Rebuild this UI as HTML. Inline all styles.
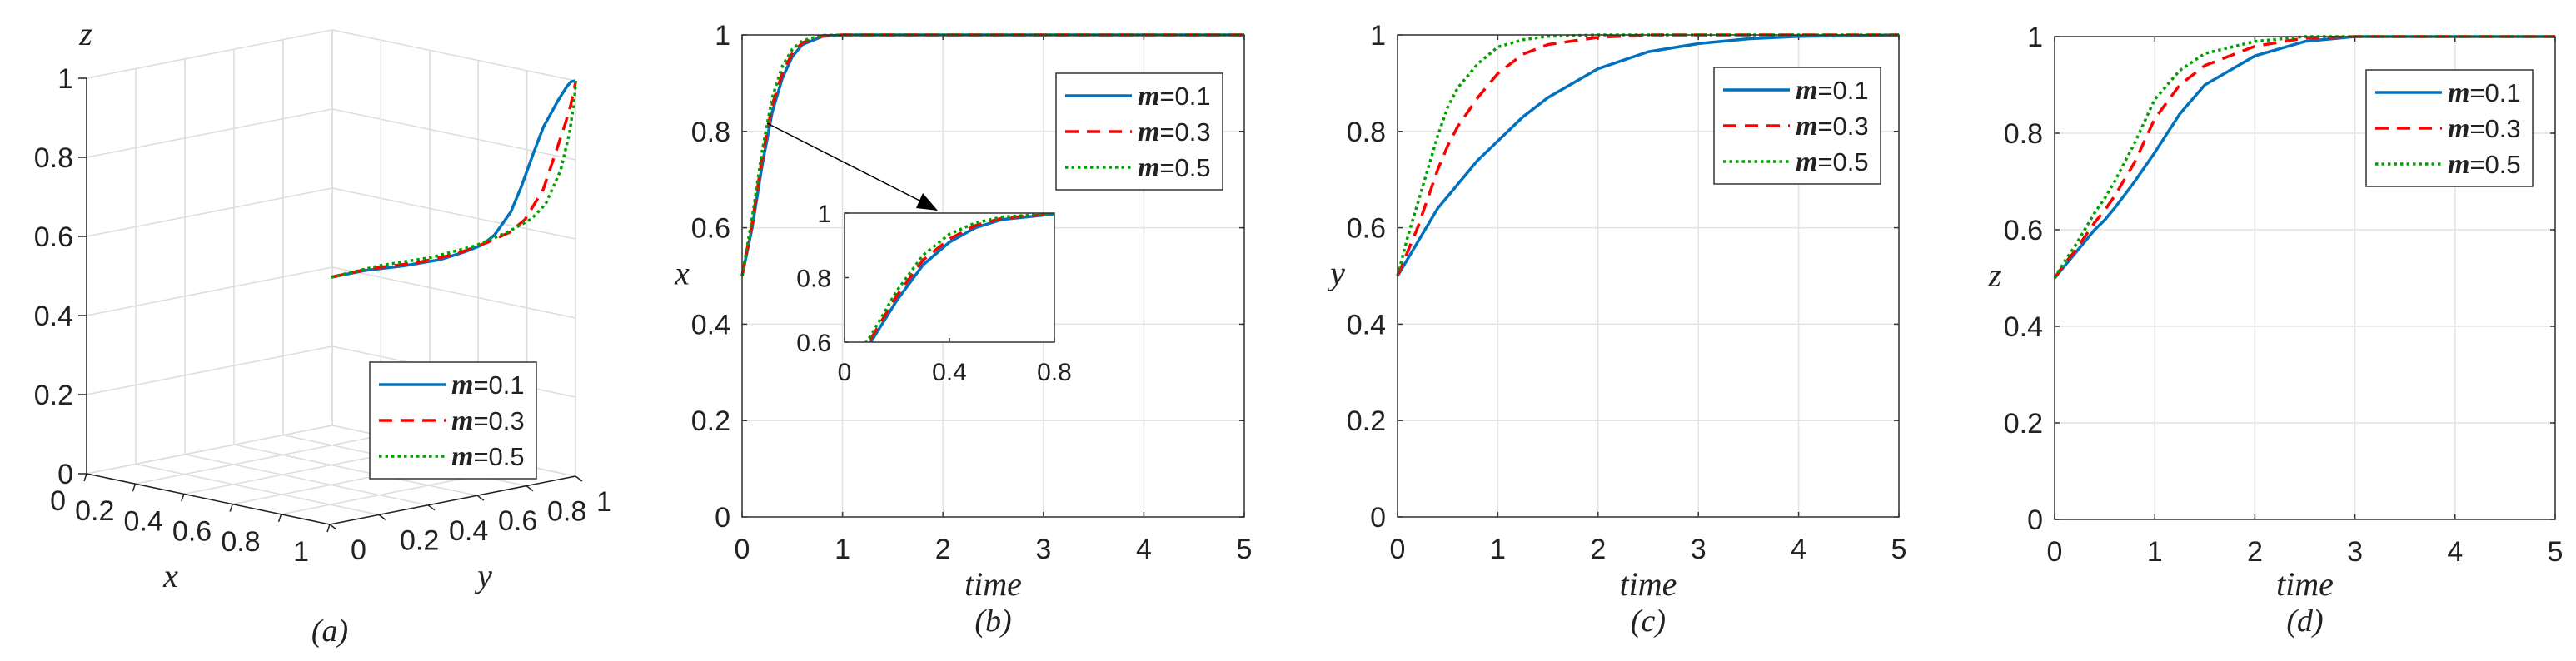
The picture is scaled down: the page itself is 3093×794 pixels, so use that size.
<!DOCTYPE html>
<html><head><meta charset="utf-8">
<style>
html,body{margin:0;padding:0;background:#fff;}
svg{display:block;}
text{font-family:"Liberation Sans",sans-serif;fill:#222;}
.it{font-family:"Liberation Serif",serif;font-style:italic;}
</style></head>
<body>
<svg id="fig" width="3093" height="794" viewBox="0 0 3093 794" xmlns="http://www.w3.org/2000/svg"></svg>
<script>
const times = [0,0.1,0.2,0.3,0.4,0.5,0.6,0.8,1,1.25,1.5,2,2.5,3,3.5,4,5];
const seriesNames = ["m=0.1","m=0.3","m=0.5"];
const xM01 = [0.5,0.6,0.73,0.84,0.91,0.955,0.98,0.997,1,1,1,1,1,1,1,1,1];
const xM03 = [0.5,0.61,0.745,0.855,0.92,0.962,0.984,0.998,1,1,1,1,1,1,1,1,1];
const xM05 = [0.5,0.62,0.76,0.87,0.935,0.97,0.988,0.999,1,1,1,1,1,1,1,1,1];
const yM01 = [0.5,0.535,0.57,0.605,0.64,0.665,0.69,0.74,0.78,0.83,0.87,0.93,0.965,0.982,0.992,0.997,1];
const yM03 = [0.5,0.55,0.6,0.66,0.72,0.77,0.81,0.87,0.92,0.96,0.98,0.995,1,1,1,1,1];
const yM05 = [0.5,0.58,0.65,0.72,0.79,0.85,0.89,0.94,0.975,0.99,0.997,1,1,1,1,1,1];
const zM01 = [0.5,0.525,0.55,0.575,0.6,0.62,0.645,0.7,0.76,0.84,0.9,0.96,0.99,1,1,1,1];
const zM03 = [0.5,0.53,0.555,0.585,0.615,0.64,0.67,0.74,0.83,0.9,0.94,0.98,0.997,1,1,1,1];
const zM05 = [0.5,0.535,0.565,0.6,0.635,0.665,0.7,0.78,0.87,0.93,0.965,0.99,1,1,1,1,1];
const yTicks = [0,0.2,0.4,0.6,0.8,1];
const yTickLabels = ["0","0.2","0.4","0.6","0.8","1"];
const tTicks = [0,1,2,3,4,5];
const tTickLabels = ["0","1","2","3","4","5"];
const insetXTicks = [0,0.4,0.8];
const insetXTickLabels = ["0","0.4","0.8"];
const insetYTicks = [0.6,0.8,1];
const insetYTickLabels = ["0.6","0.8","1"];

const NS="http://www.w3.org/2000/svg";
const svg=document.getElementById('fig');
const styles=[{c:"#0072BD",d:""},{c:"#FF0000",d:"16 10"},{c:"#00A000",d:"3.5 4"}];
function mk(tag,attrs,parent){const e=document.createElementNS(NS,tag);for(const k in attrs)e.setAttribute(k,attrs[k]);(parent||svg).appendChild(e);return e;}
function txt(x,y,s,size,anchor,cls,parent){const t=mk('text',{x:x,y:y,'font-size':size,'text-anchor':anchor||'middle'},parent);if(cls)t.setAttribute('class',cls);t.textContent=s;return t;}

function legend(lx,ly,name){
  const g=mk('g',{});
  
  
  mk('rect',{x:lx,y:ly,width:200,height:140,fill:'#fff',stroke:'#333','stroke-width':1.5},g);
  seriesNames.forEach((n,i)=>{
    const cy=ly+27+i*43;
    mk('line',{x1:lx+11,y1:cy,x2:lx+91,y2:cy,stroke:styles[i].c,'stroke-width':3.5,'stroke-dasharray':styles[i].d},g);
    const t=mk('text',{x:lx+98,y:cy+11,'font-size':31},g);
    
    
    const a=document.createElementNS(NS,'tspan');a.setAttribute('class','it');a.setAttribute('font-weight','bold');a.setAttribute('font-size','34');a.textContent='m';t.appendChild(a);
    const b=document.createElementNS(NS,'tspan');b.textContent=n.slice(1);t.appendChild(b);
  });
}

function panel(p){
  const g=mk('g',{});
  
  
  const sx=v=>p.x0+(v-0)/(5-0)*(p.x1-p.x0);
  const sy=v=>p.y1-(v-0)*(p.y1-p.y0);
  mk('rect',{x:p.x0,y:p.y0,width:p.x1-p.x0,height:p.y1-p.y0,fill:'#fff'},g);
  tTicks.forEach((t,i)=>{
    mk('line',{x1:sx(t),y1:p.y0,x2:sx(t),y2:p.y1,stroke:'#e3e3e3','stroke-width':1.5},g);
    mk('line',{x1:sx(t),y1:p.y1,x2:sx(t),y2:p.y1-6,stroke:'#333','stroke-width':1.5},g);
    mk('line',{x1:sx(t),y1:p.y0,x2:sx(t),y2:p.y0+6,stroke:'#333','stroke-width':1.5},g);
    txt(sx(t),p.y1+50,tTickLabels[i],34,'middle',null,g);
  });
  yTicks.forEach((v,i)=>{
    mk('line',{x1:p.x0,y1:sy(v),x2:p.x1,y2:sy(v),stroke:'#e3e3e3','stroke-width':1.5},g);
    mk('line',{x1:p.x0,y1:sy(v),x2:p.x0+6,y2:sy(v),stroke:'#333','stroke-width':1.5},g);
    mk('line',{x1:p.x1,y1:sy(v),x2:p.x1-6,y2:sy(v),stroke:'#333','stroke-width':1.5},g);
    txt(p.x0-14,sy(v)+12,yTickLabels[i],34,'end',null,g);
  });
  p.data.forEach((arr,si)=>{
    const pts=times.map((t,i)=>sx(t)+','+sy(arr[i])).join(' ');
    const pl=mk('polyline',{points:pts,fill:'none',stroke:styles[si].c,'stroke-width':3.5,'stroke-dasharray':styles[si].d,'stroke-linejoin':'round'},g);
    
    
  });
  mk('rect',{x:p.x0,y:p.y0,width:p.x1-p.x0,height:p.y1-p.y0,fill:'none',stroke:'#333','stroke-width':1.5},g);
  const yl=txt(p.x0-72,(p.y0+p.y1)/2+10,p.ylab,40,'middle','it',g);
  
  
  const xl=txt((p.x0+p.x1)/2,715,'time',40,'middle','it',g);
  
  
  const cap=txt((p.x0+p.x1)/2,758,'('+p.id+')',38,'middle','it',g);
  
  
  return {sx,sy};
}

panel({id:'b',x0:891,x1:1494,y0:42,y1:621,ylab:'x',data:[xM01,xM03,xM05]});
panel({id:'c',x0:1678,x1:2280,y0:42,y1:621,ylab:'y',data:[yM01,yM03,yM05]});
panel({id:'d',x0:2467,x1:3068,y0:44,y1:624,ylab:'z',data:[zM01,zM03,zM05]});

// arrow in panel b
mk('line',{x1:921,y1:148,x2:1118,y2:248,stroke:'#000','stroke-width':1.5});
mk('polygon',{points:'1126,253 1100,250 1108,232',fill:'#000'});

// inset in panel b
(function(){
  const ix0=1014,ix1=1266,iy0=256,iy1=411;
  const g=mk('g',{});
  
  
  const sx=v=>ix0+v/0.8*(ix1-ix0);
  const sy=v=>iy1-(v-0.6)/0.4*(iy1-iy0);
  mk('rect',{x:ix0,y:iy0,width:ix1-ix0,height:iy1-iy0,fill:'#fff'},g);
  const clip=mk('clipPath',{id:'insclip'},g);
  mk('rect',{x:ix0,y:iy0,width:ix1-ix0,height:iy1-iy0},clip);
  [xM01,xM03,xM05].forEach((arr,si)=>{
    const pts=times.filter(t=>t<=0.8).map((t,i)=>sx(t)+','+sy(arr[i])).join(' ');
    const pl=mk('polyline',{points:pts,fill:'none',stroke:styles[si].c,'stroke-width':3.5,'stroke-dasharray':styles[si].d,'clip-path':'url(#insclip)'},g);
    
    
  });
  mk('rect',{x:ix0,y:iy0,width:ix1-ix0,height:iy1-iy0,fill:'none',stroke:'#333','stroke-width':1.5},g);
  insetXTicks.forEach((t,i)=>{
    mk('line',{x1:sx(t),y1:iy1,x2:sx(t),y2:iy1-5,stroke:'#333','stroke-width':1.5},g);
    txt(sx(t),iy1+46,insetXTickLabels[i],30,'middle',null,g);
  });
  insetYTicks.forEach((v,i)=>{
    mk('line',{x1:ix0,y1:sy(v),x2:ix0+5,y2:sy(v),stroke:'#333','stroke-width':1.5},g);
    txt(ix0-16,sy(v)+11,insetYTickLabels[i],30,'end',null,g);
  });
})();

legend(1268,88,'legend-b');
legend(2058,81,'legend-c');
legend(2841,84,'legend-d');

// panel a: 3D
(function(){
  const g=mk('g',{});
  
  
  const P=(x,y,z)=>[104+292*x+295*y, 569+61*x-58*y-475*z];
  const L=(a,b,st,w)=>mk('line',{x1:a[0],y1:a[1],x2:b[0],y2:b[1],stroke:st,'stroke-width':w||1.5},g);
  const gv=[0,0.2,0.4,0.6,0.8,1];
  const grid='#dcdcdc';
  gv.forEach(v=>{
    L(P(0,v,0),P(0,v,1),grid); L(P(0,0,v),P(0,1,v),grid);
    L(P(v,1,0),P(v,1,1),grid); L(P(0,1,v),P(1,1,v),grid);
    L(P(v,0,0),P(v,1,0),grid); L(P(0,v,0),P(1,v,0),grid);
  });
  L(P(0,0,0),P(0,0,1),'#222');
  L(P(0,0,0),P(1,0,0),'#222');
  L(P(1,0,0),P(1,1,0),'#222');
  gv.forEach((v,i)=>{
    const zp=P(0,0,v); L(zp,[zp[0]-10,zp[1]],'#222');
    txt(zp[0]-16,zp[1]+12,yTickLabels[i],34,'end',null,g);
    const xp=P(v,0,0); L(xp,[xp[0]-3,xp[1]+9],'#222');
    txt(xp[0]-25,xp[1]+44,yTickLabels[i],34,'end',null,g);
    const yp=P(1,v,0); L(yp,[yp[0]+8,yp[1]+6],'#222');
    txt(yp[0]+25,yp[1]+42,yTickLabels[i],34,'start',null,g);
  });
  [[xM01,yM01,zM01],[xM03,yM03,zM03],[xM05,yM05,zM05]].forEach((s,si)=>{
    const pts=times.map((t,i)=>P(s[0][i],s[1][i],s[2][i]).join(',')).join(' ');
    const pl=mk('polyline',{points:pts,fill:'none',stroke:styles[si].c,'stroke-width':3.5,'stroke-dasharray':styles[si].d,'stroke-linejoin':'round'},g);
    
    
  });
  const a1=txt(205,705,'x',40,'middle','it',g);
  
  
  const a2=txt(582,705,'y',40,'middle','it',g);
  
  
  const a3=txt(103,54,'z',40,'middle','it',g);
  
  
  const c=txt(396,770,'(a)',38,'middle','it',g);
  
  
})();
legend(444,435,'legend-a');
</script>
</body></html>
